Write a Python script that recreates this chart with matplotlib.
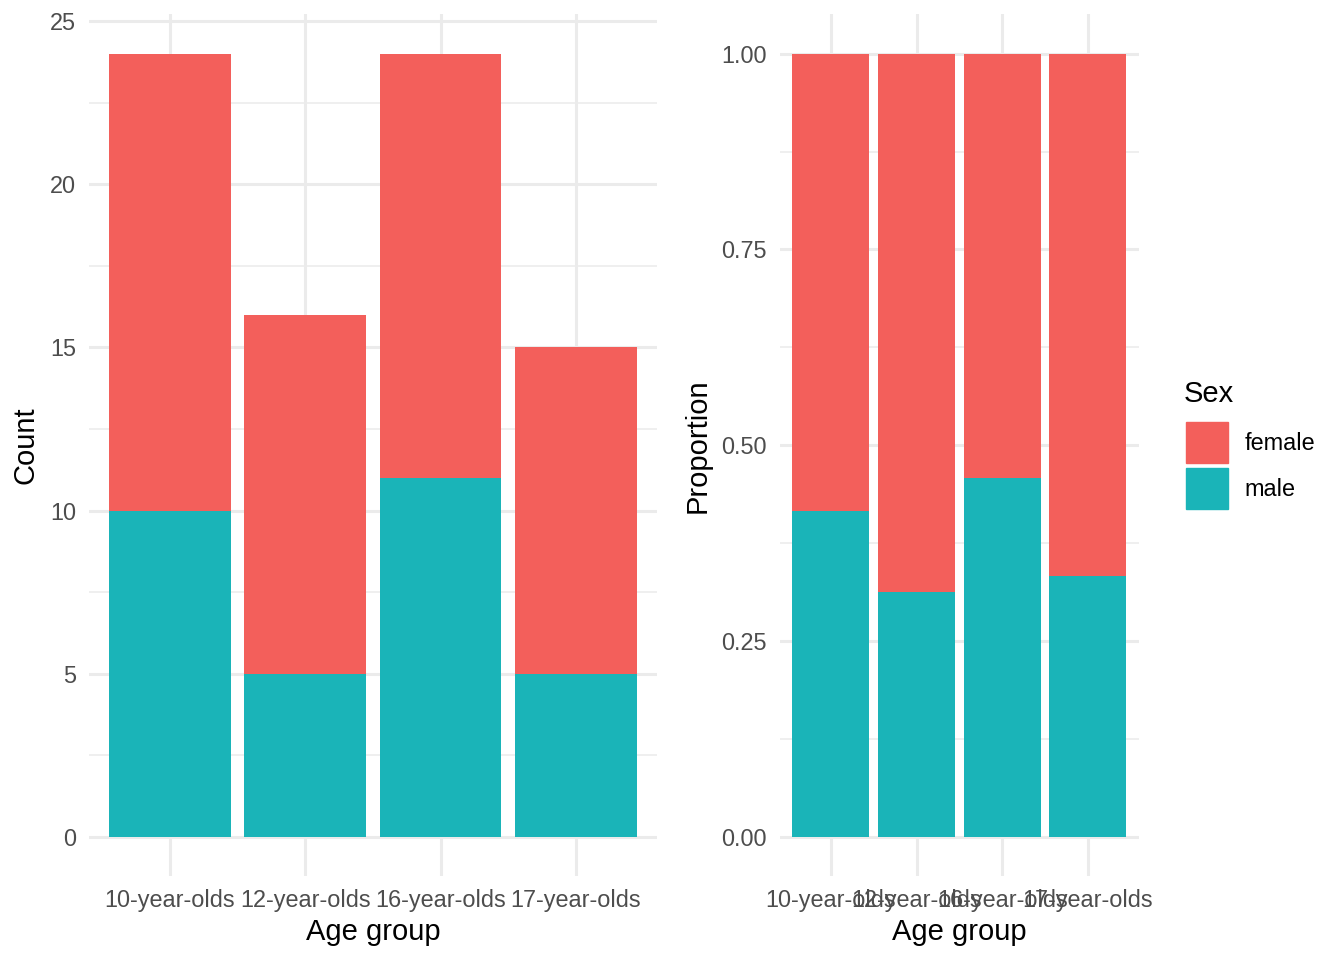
import matplotlib.pyplot as plt
import numpy as np
from matplotlib.patches import Patch
from matplotlib.ticker import MultipleLocator

plt.rcParams['font.family'] = ['Liberation Sans', 'DejaVu Sans']

# data
groups = ["10-year-olds", "12-year-olds", "16-year-olds", "17-year-olds"]
male = np.array([10, 5, 11, 5])
female = np.array([14, 11, 13, 10])
sexes = ["female", "male"]
col_female = "#F35F5B"
col_male = "#1AB4B8"

total = male + female
male_p = male / total
female_p = female / total

grid_col = "#EBEBEB"
tick_col = "#4D4D4D"

fig = plt.figure(figsize=(13.44, 9.6), dpi=100)
ax1 = fig.add_axes([0.066, 0.0875, 0.4229, 0.8974])
ax2 = fig.add_axes([0.580, 0.0875, 0.2677, 0.8974])

x = np.arange(len(groups))

def style(ax, major, minor, ylim):
    ax.set_xlim(-0.6, len(groups) - 0.4)
    ax.set_ylim(*ylim)
    for s in ax.spines.values():
        s.set_visible(False)
    ax.yaxis.set_major_locator(MultipleLocator(major))
    ax.yaxis.set_minor_locator(MultipleLocator(minor))
    ax.set_xticks(x)
    ax.set_xticklabels(groups)
    ax.set_axisbelow(True)
    ax.grid(which='major', color=grid_col, linewidth=2.2)
    ax.grid(which='minor', axis='y', color=grid_col, linewidth=1.1)
    ax.tick_params(which='both', length=0, labelsize=16.9, colors=tick_col)
    ax.tick_params(axis='y', pad=9)
    ax.tick_params(axis='x', pad=9)
    ax.set_xlabel("Age group", fontsize=21, labelpad=5)

# counts
ax1.bar(x, male, width=0.9, color=col_male)
ax1.bar(x, female, width=0.9, bottom=male, color=col_female)
style(ax1, 5, 2.5, (-1.2, 25.2))
ax1.set_ylabel("Count", fontsize=21, labelpad=8)

# proportions
ax2.bar(x, male_p, width=0.9, color=col_male)
ax2.bar(x, female_p, width=0.9, bottom=male_p, color=col_female)
style(ax2, 0.25, 0.125, (-0.05, 1.05))
ax2.yaxis.set_major_formatter(lambda v, p: f"{v:.2f}")
ax2.set_ylabel("Proportion", fontsize=21, labelpad=7)

# legend
fig.text(1184 / 1344, 1 - 394 / 960, "Sex", fontsize=21, ha='left', va='center')
handles = [Patch(color=col_female), Patch(color=col_male)]
fig.legend(handles, sexes, loc='upper left',
           bbox_to_anchor=(1186 / 1344, 1 - 422 / 960), frameon=False,
           fontsize=16.9, handlelength=1.8, handleheight=2.3,
           labelspacing=0.22, handletextpad=0.68, borderpad=0,
           borderaxespad=0)

fig.savefig("out.png", dpi=100)
